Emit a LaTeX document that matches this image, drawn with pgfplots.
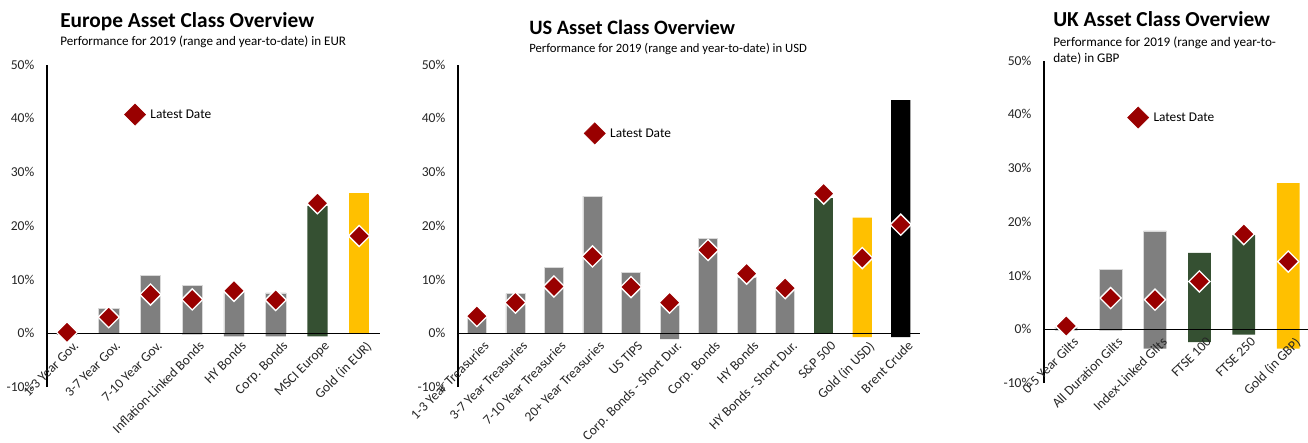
\documentclass[border=0pt]{standalone}
\usepackage{pgfplots}
\pgfplotsset{compat=1.18}
\usepackage{fontspec}
\setmainfont{Carlito}

\definecolor{barGrey}{RGB}{127,127,127}
\definecolor{barGreen}{RGB}{53,80,50}
\definecolor{barGold}{RGB}{255,192,0}
\definecolor{markRed}{RGB}{153,0,0}

\pgfplotsset{
  panel/.style={
    anchor=south west,
    axis x line=middle, axis y line=left,
    axis line style={-, black, line width=0.9pt},
    ymin=-10, ymax=50, y=4.03pt,
    ytick={-10,0,...,50},
    yticklabels={-10\%,0\%,10\%,20\%,30\%,40\%,50\%},
    major tick length=0pt,
    hide obscured x ticks=false, hide obscured y ticks=false,
    tick label style={font=\fontsize{10.2}{12}\selectfont, text=black!85},
    y tick label style={xshift=-6pt},
    x tick label style={rotate=45, anchor=north east, xshift=3pt, yshift=-3.5pt},
    axis on top, clip=false,
  },
  range/.style={ybar, bar shift=0pt, draw=none, forget plot},
  latest/.style={only marks, mark=square*, mark size=5.6pt,
    mark options={rotate=45, fill=markRed, draw=white, line width=1pt}, forget plot},
  key/.style={only marks, mark=square*, mark size=5.6pt,
    mark options={rotate=45, fill=markRed, draw=markRed},
    nodes near coords={Latest Date},
    every node near coord/.style={anchor=west, xshift=8pt, text=black, font=\fontsize{10}{12}\selectfont}},
}

\begin{document}
\begin{tikzpicture}

% ---------------- Europe ----------------
\begin{axis}[panel, at={(35.25pt,-290.25pt)},
  x=31.3pt, xmin=-0.48, xmax=7.5,
  xtick={0,...,7},
  xticklabels={1-3 Year Gov., 3-7 Year Gov., 7-10 Year Gov., Inflation-Linked Bonds,
    HY Bonds, Corp. Bonds, MSCI Europe, Gold (in EUR)},
]
\addplot[range, bar width=15.2pt, fill=barGrey, draw=black!15] coordinates {
  (0,0.3) (1,4.6) (2,10.8) (3,8.9) (4,7.6) (5,7.5)};
\addplot[range, bar width=15.2pt, fill=barGrey] coordinates {
  (0,-0.3) (1,0) (2,0) (3,-0.2) (4,-0.6) (5,-0.6)};
\addplot[range, bar width=15.2pt, fill=barGreen] coordinates {(6,23.7) (6,-0.6)};
\addplot[range, bar width=15.2pt, fill=barGold] coordinates {(7,26.1)};
\addplot[latest] coordinates {
  (0,0.2) (1,3.0) (2,7.2) (3,6.3) (4,7.9) (5,6.2) (6,24.2) (7,18.1)};
\addplot[key] coordinates {(1.63,40.7)};
\end{axis}

% ---------------- US ----------------
\begin{axis}[panel, at={(343.5pt,-290.25pt)},
  x=28.9pt, xmin=-0.49, xmax=11.5,
  xtick={0,...,11},
  xticklabels={1-3 Year Treasuries, 3-7 Year Treasuries, 7-10 Year Treasuries,
    20+ Year Treasuries, US TIPS, Corp. Bonds - Short Dur., Corp. Bonds, HY Bonds,
    HY Bonds - Short Dur., S\&P 500, Gold (in USD), Brent Crude},
]
\addplot[range, bar width=14.3pt, fill=barGrey, draw=black!15] coordinates {
  (0,2.8) (1,7.4) (2,12.2) (3,25.5) (4,11.3) (5,5.3) (6,17.7) (7,10.5) (8,8.0)};
\addplot[range, bar width=14.3pt, fill=barGrey] coordinates {
  (0,0) (1,0) (2,0) (3,0) (4,0) (5,-1.1) (6,0) (7,0) (8,0)};
\addplot[range, bar width=14.3pt, fill=barGreen] coordinates {(9,25.1)};
\addplot[range, bar width=14.3pt, fill=barGold] coordinates {(10,21.5) (10,-0.7)};
\addplot[range, bar width=14.3pt, fill=black] coordinates {(11,43.4) (11,-0.7)};
\addplot[latest] coordinates {
  (0,3.2) (1,5.7) (2,8.7) (3,14.3) (4,8.6) (5,5.7) (6,15.5) (7,11.1) (8,8.4)
  (9,26.0) (10,14.0) (11,20.2)};
\addplot[key] coordinates {(3.06,37.2)};
\end{axis}

% ---------------- UK ----------------
\begin{axis}[panel, at={(783pt,-287.25pt)},
  x=33.3pt, xmin=-0.5, xmax=5.45,
  xtick={0,...,5},
  xticklabels={0-5 Year Gilts, All Duration Gilts, Index-Linked Gilts,
    FTSE 100, FTSE 250, Gold (in GBP)},
]
\addplot[range, bar width=17pt, fill=barGrey, draw=black!15] coordinates {
  (0,0.4) (1,11.1) (2,18.3)};
\addplot[range, bar width=17pt, fill=barGrey] coordinates {
  (0,-0.2) (1,-0.2) (2,-3.6)};
\addplot[range, bar width=17pt, fill=barGreen] coordinates {(3,14.2) (4,17.5)};
\addplot[range, bar width=17pt, fill=barGreen] coordinates {(3,-2.4) (4,-1.0)};
\addplot[range, bar width=17pt, fill=barGold] coordinates {(5,27.2) (5,-3.6)};
\addplot[latest] coordinates {
  (0,0.6) (1,5.8) (2,5.5) (3,8.9) (4,17.7) (5,12.6)};
\addplot[key] coordinates {(1.62,39.4)};
\end{axis}

% ---------------- titles ----------------
\begin{scope}[every node/.style={anchor=base west, inner sep=0pt, text=black}]
\node[font=\bfseries\fontsize{16}{19}\selectfont] at (45pt,-21pt) {Europe Asset Class Overview};
\node[font=\fontsize{9.8}{11}\selectfont] at (45pt,-34.5pt) {Performance for 2019 (range and year-to-date) in EUR};
\node[font=\bfseries\fontsize{15.3}{18}\selectfont] at (396.75pt,-26.25pt) {US Asset Class Overview};
\node[font=\fontsize{9.5}{11}\selectfont] at (396.75pt,-39.75pt) {Performance for 2019 (range and year-to-date) in USD};
\node[font=\bfseries\fontsize{16}{19}\selectfont] at (789.75pt,-20.25pt) {UK Asset Class Overview};
\node[font=\fontsize{9.9}{11}\selectfont] at (789.75pt,-35.25pt) {Performance for 2019 (range and year-to-};
\node[font=\fontsize{9.9}{11}\selectfont] at (789.75pt,-47.25pt) {date) in GBP};
\end{scope}

\pgfresetboundingbox
\path[use as bounding box] (0,0) rectangle (981pt,-331.5pt);
\end{tikzpicture}
\end{document}
